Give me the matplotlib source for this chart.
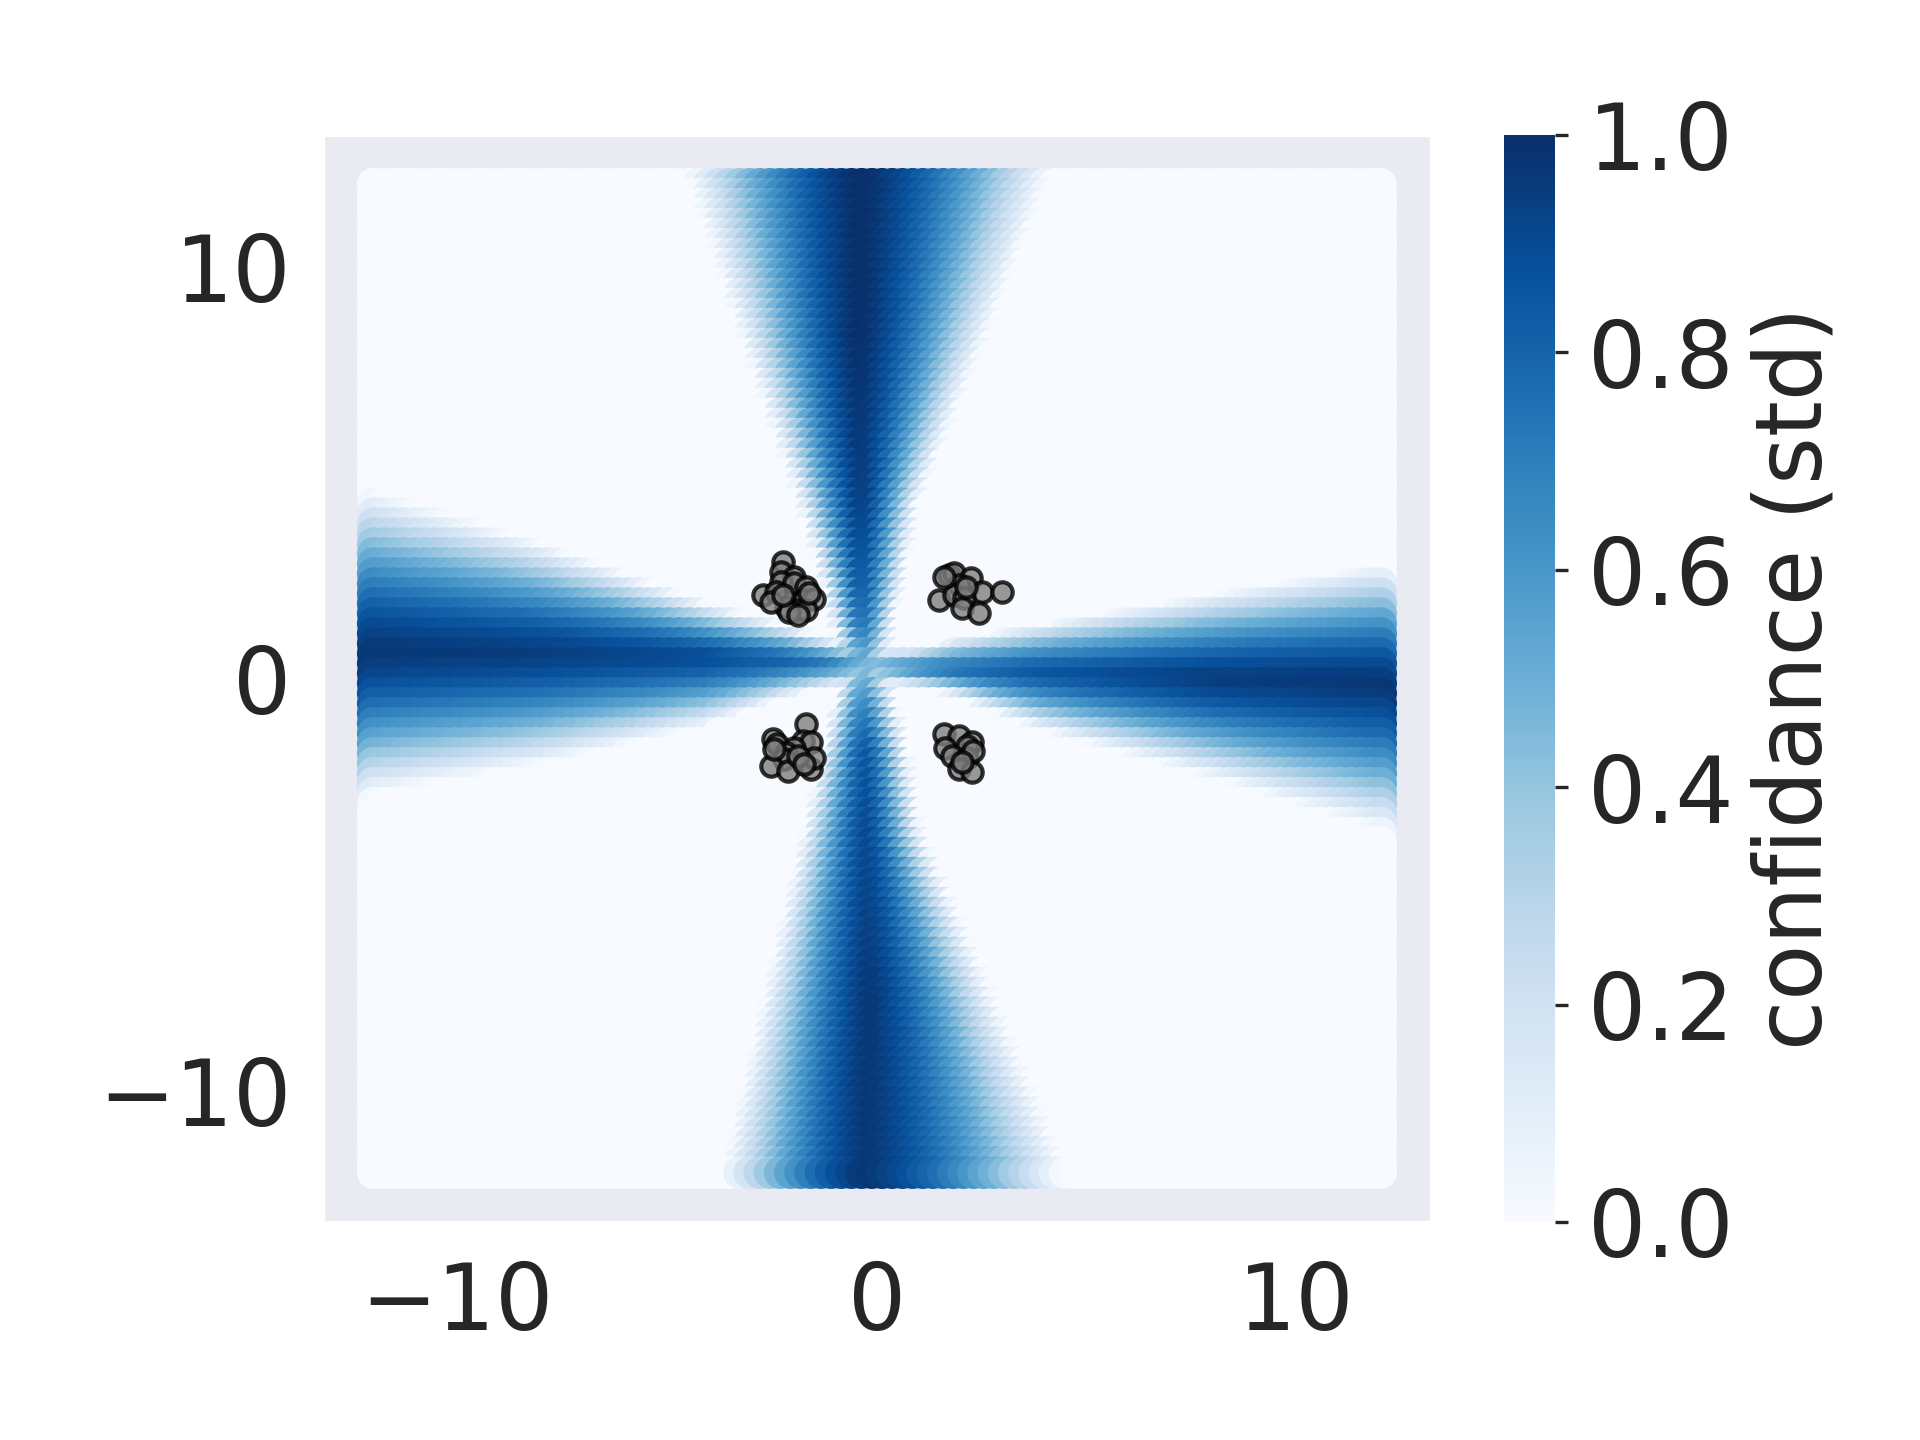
import numpy as np
import matplotlib
matplotlib.use("Agg")
import matplotlib.pyplot as plt
import seaborn as sns

# grid of evaluation points
grid_lo, grid_hi, grid_n = -12.0, 12.0, 100

# vertical band of high std (read at several heights)
vband_y = [12, 8, 4, 2, 1, 0, -1, -2, -4, -8, -12]
vband_center = [-0.27, -0.3, -0.25, -0.25, -0.22, -0.2, -0.2, -0.15, -0.12, -0.05, -0.15]
vband_left = [-3.8, -2.7, -1.5, -1.0, -0.8, -0.6, -0.8, -1.0, -1.4, -2.2, -3.0]
vband_right = [3.6, 2.3, 0.9, 0.6, 0.4, 0.3, 0.5, 0.7, 1.0, 2.5, 3.9]
vband_peak = [1.0, 1.0, 0.95, 0.85, 0.75, 0.45, 0.7, 0.85, 0.9, 0.97, 0.97]

# horizontal band of high std (read at several x positions)
hband_x = [-12, -8, -4, -2, -1, 0, 1, 2, 4, 8, 12]
hband_center = [0.4, 0.35, 0.25, 0.15, 0.1, 0.05, 0.0, -0.05, -0.1, -0.25, -0.35]
hband_top = [3.8, 2.7, 1.4, 0.9, 0.6, 0.4, 0.4, 0.6, 0.9, 1.5, 2.1]
hband_bottom = [-2.6, -2.0, -1.2, -0.6, -0.4, -0.3, -0.4, -0.6, -1.3, -2.3, -3.4]
hband_peak = [0.97, 0.95, 0.9, 0.8, 0.7, 0.45, 0.65, 0.75, 0.85, 0.95, 0.97]

# training points, four clusters
train_x = [-2.25, -2.29, -1.97, -2.29, -2.72, -2.41, -1.97, -1.69, -1.73, -1.50,
           -2.17, -1.89, -1.69, -2.09, -2.52, -2.25, -1.89, -1.62,
           1.71, 1.83, 2.23, 1.95, 2.50, 2.98, 1.47, 1.83, 2.07, 2.03, 2.42, 1.59, 2.11,
           -1.69, -2.48, -2.37, -1.77, -1.57, -1.97, -2.17, -2.21, -2.52, -2.13,
           -1.57, -1.50, -1.89, -2.45, -1.73,
           1.59, 1.95, 2.26, 1.63, 2.15, 1.79, 2.15, 1.95, 2.26, 2.30, 2.03]
train_y = [2.84, 2.59, 2.47, 2.35, 2.02, 2.10, 2.31, 2.23, 1.90, 1.94,
           1.74, 1.66, 1.66, 1.62, 1.86, 2.02, 1.54, 2.07,
           2.51, 2.56, 2.43, 2.27, 2.10, 2.10, 1.90, 2.02, 1.95, 1.70, 1.58, 2.47, 2.23,
           -1.10, -1.47, -1.59, -1.51, -1.55, -1.68, -1.80, -1.96, -2.12, -2.24,
           -2.20, -1.92, -1.88, -1.72, -2.08,
           -1.35, -1.39, -1.55, -1.68, -1.63, -1.88, -1.92, -2.20, -2.28, -1.76, -2.04]


def band_value(pos, across, knots, center, lo, hi, peak):
    # knots must be increasing for np.interp
    order = np.argsort(knots)
    k = np.asarray(knots, float)[order]
    c = np.interp(pos, k, np.asarray(center)[order])
    lo_w = np.interp(pos, k, np.asarray(lo)[order])
    hi_w = np.interp(pos, k, np.asarray(hi)[order])
    pk = np.interp(pos, k, np.asarray(peak)[order])
    d = across - c
    hw = np.where(d < 0, c - lo_w, hi_w - c)
    t = np.abs(d) / hw
    return pk * np.clip(1 - 0.8 * t ** 1.5, 0, 1)


gx = np.linspace(grid_lo, grid_hi, grid_n)
gy = np.linspace(grid_hi, grid_lo, grid_n)
xx, yy = np.meshgrid(gx, gy)
xx, yy = xx.ravel(), yy.ravel()

v1 = band_value(yy, xx, vband_y, vband_center, vband_left, vband_right, vband_peak)
v2 = band_value(xx, yy, hband_x, hband_center, hband_bottom, hband_top, hband_peak)
std = np.maximum(v1, v2)

sns.set_style("dark")
plt.rcParams["font.family"] = ["DejaVu Sans"]

fig = plt.figure(figsize=(6.4, 4.8), dpi=300)
ax = fig.add_axes([0.1682, 0.1514, 0.5771, 0.7549])
cax = fig.add_axes([0.7833, 0.1514, 0.0266, 0.7549])

sc = ax.scatter(xx, yy, c=std, cmap="Blues", vmin=0, vmax=1, s=62, linewidths=0)
ax.scatter(train_x, train_y, c="gray", edgecolors="k", s=24, linewidths=1.0, alpha=0.8)

ax.set_xticks([-10, 0, 10])
ax.set_yticks([-10, 0, 10])
ax.tick_params(labelsize=22, length=0, colors="#262626")
ax.tick_params(axis="x", pad=9)
ax.tick_params(axis="y", pad=7.5)

cb = fig.colorbar(sc, cax=cax)
cb.outline.set_visible(False)
cb.set_ticks([0, 0.2, 0.4, 0.6, 0.8, 1.0])
cb.ax.tick_params(labelsize=22, length=3, width=0.8, pad=5, colors="#262626")
cb.set_label("confidance (std)", fontsize=22, color="#262626")

fig.savefig("out.png", dpi=300)
